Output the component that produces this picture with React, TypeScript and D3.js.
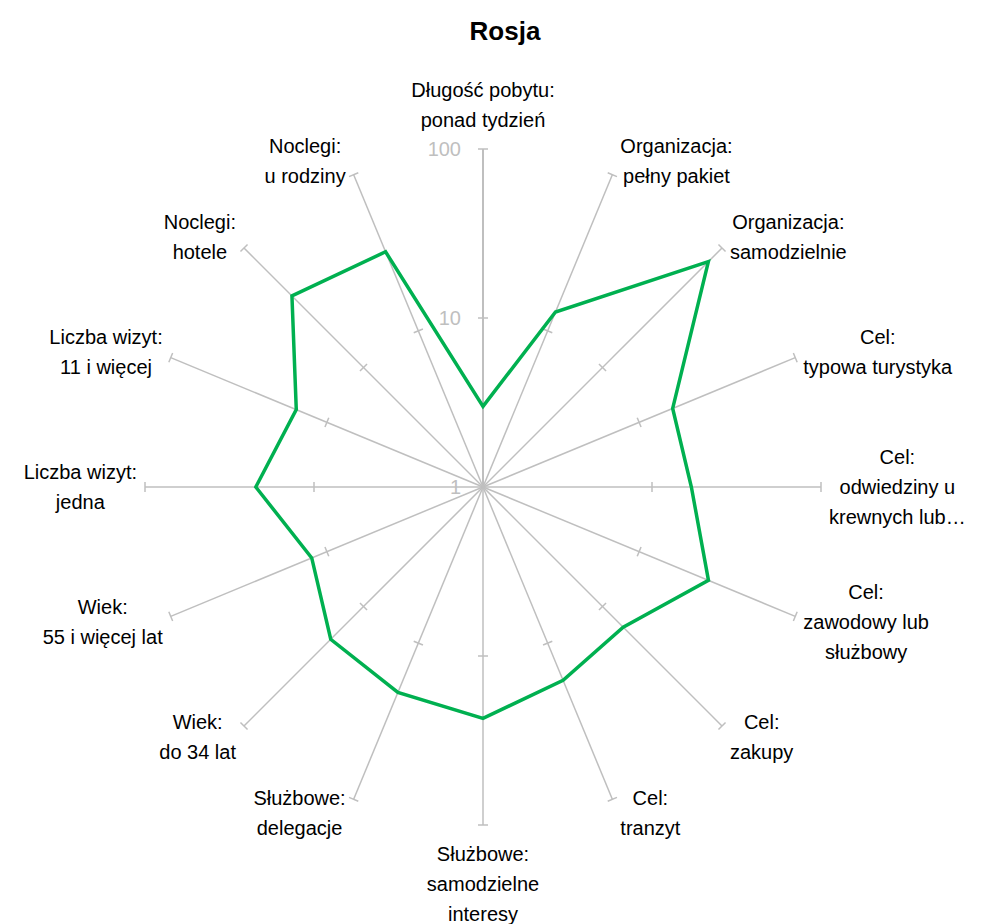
import React, { useEffect, useRef } from 'react';
import * as d3 from 'd3';

const title = 'Rosja';
const categories = [
  ['Długość pobytu:', 'ponad tydzień'],
  ['Organizacja:', 'pełny pakiet'],
  ['Organizacja:', 'samodzielnie'],
  ['Cel:', 'typowa turystyka'],
  ['Cel:', 'odwiedziny u', 'krewnych lub…'],
  ['Cel:', 'zawodowy lub', 'służbowy'],
  ['Cel:', 'zakupy'],
  ['Cel:', 'tranzyt'],
  ['Służbowe:', 'samodzielne', 'interesy'],
  ['Służbowe:', 'delegacje'],
  ['Wiek:', 'do 34 lat'],
  ['Wiek:', '55 i więcej lat'],
  ['Liczba wizyt:', 'jedna'],
  ['Liczba wizyt:', '11 i więcej'],
  ['Noclegi:', 'hotele'],
  ['Noclegi:', 'u rodziny'],
];
const values = [3.0, 13.2, 76.9, 16.4, 17.1, 27.8, 14.9, 17.3, 23.4, 20.7, 18.8, 12.5, 22.1, 15.7, 39.7, 32.1];
const tickValues = [1, 10, 100];

const W = 983;
const H = 924;
const cx = 483;
const cy = 487;
const R = 338;
const FONT = "'Liberation Sans', Arial, sans-serif";

export default function App() {
  const ref = useRef<SVGSVGElement>(null);

  useEffect(() => {
    const svg = d3.select(ref.current);
    svg.selectAll('*').remove();

    const n = categories.length;
    const r = d3.scaleLog().domain([1, 100]).range([0, R]);
    const ang = (i: number) => (i * 2 * Math.PI) / n;

    svg.append('text')
      .attr('x', 505).attr('y', 40)
      .attr('text-anchor', 'middle')
      .style('font-family', FONT).style('font-weight', 'bold').style('font-size', '26px')
      .text(title);

    const g = svg.append('g').attr('transform', `translate(${cx},${cy})`);

    // spokes
    categories.forEach((_, i) => {
      const a = ang(i);
      const sx = Math.sin(a), sy = -Math.cos(a);
      g.append('line')
        .attr('x1', 0).attr('y1', 0)
        .attr('x2', R * sx).attr('y2', R * sy)
        .attr('stroke', '#bfbfbf').attr('stroke-width', i === 0 ? 2 : 1.5);
      // tick marks at 10 and 100
      tickValues.slice(1).forEach(t => {
        const rr = r(t);
        const px = rr * sx, py = rr * sy;
        const nx = -sy * 5, ny = sx * 5;
        g.append('line')
          .attr('x1', px - nx).attr('y1', py - ny)
          .attr('x2', px + nx).attr('y2', py + ny)
          .attr('stroke', '#bfbfbf').attr('stroke-width', 1.5);
      });
    });

    // tick labels
    tickValues.forEach(t => {
      g.append('text')
        .attr('x', -22).attr('y', -r(t))
        .attr('dy', '0.35em')
        .attr('text-anchor', 'end')
        .style('font-family', FONT).style('font-size', '20px')
        .attr('fill', '#bfbfbf')
        .text(t);
    });

    // data line
    const line = d3.lineRadial<number>()
      .angle((_, i) => ang(i))
      .radius(d => r(d))
      .curve(d3.curveLinearClosed);
    g.append('path')
      .attr('d', line(values))
      .attr('fill', 'none')
      .attr('stroke', '#00b050')
      .attr('stroke-width', 3.5)
      .attr('stroke-linejoin', 'miter');

    // category labels
    const lh = 30;
    categories.forEach((lines, i) => {
      const a = ang(i);
      const sx = Math.sin(a), cs = Math.cos(a);
      const ex = R * sx, ey = -R * cs;
      const t = g.append('text')
        .attr('text-anchor', 'middle')
        .style('font-family', FONT).style('font-size', '20px')
        .attr('fill', '#000');
      const spans = lines.map(l => t.append('tspan').text(l));
      const w = d3.max(spans, s => (s.node() as SVGTSpanElement).getComputedTextLength()) || 0;
      const h = lines.length * lh;
      let x = ex, yc = ey;
      if (Math.abs(sx) > 0.01) {
        x = ex + Math.sign(sx) * (8 + w / 2);
        yc = ey - 15 * cs;
      } else {
        yc = ey - cs * (14 + h / 2);
      }
      const y0 = yc - h / 2 + lh / 2;
      spans.forEach((s, k) => s.attr('x', x).attr('y', y0 + k * lh).attr('dy', '0.35em'));
    });
  }, []);

  return (
    <svg ref={ref} width={W} height={H} style={{ position: 'absolute', left: 0, top: 0, background: '#fff' }} />
  );
}
